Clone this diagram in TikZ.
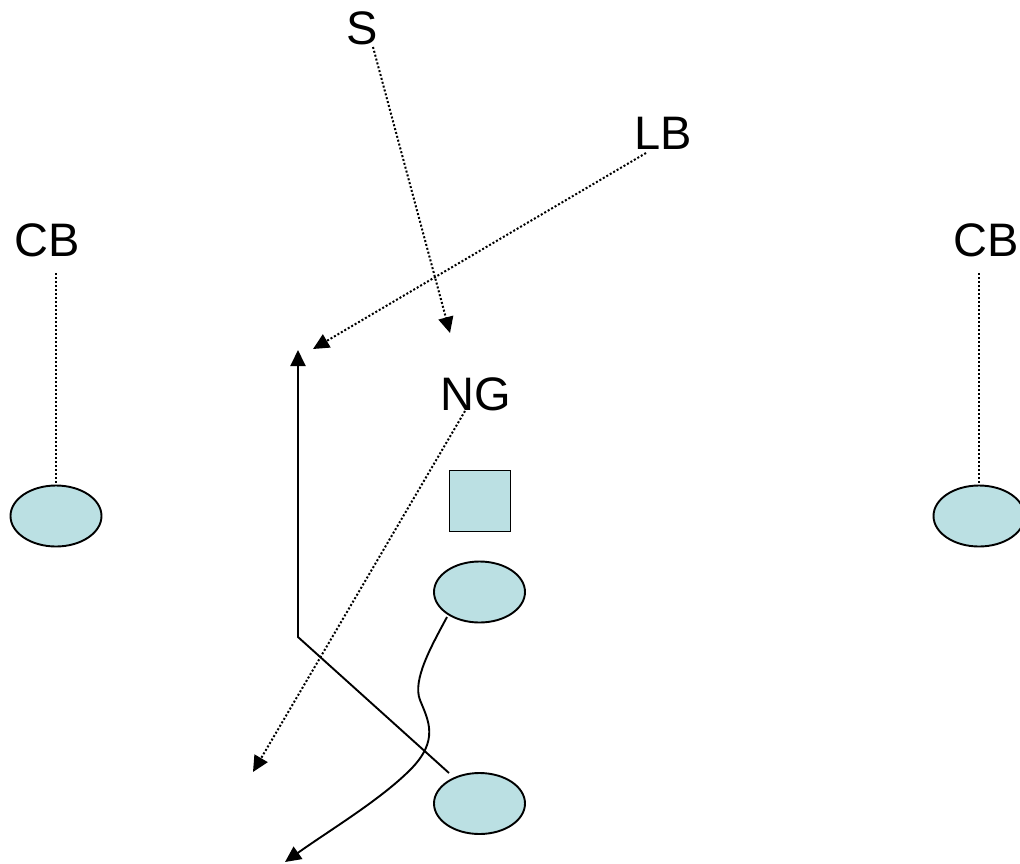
\documentclass[tikz,border=0pt]{standalone}
\usepackage{fontspec}
\setmainfont{Liberation Sans}
\usepackage{xcolor}
\usetikzlibrary{shapes.geometric,arrows.meta}
\definecolor{player}{RGB}{187,224,227}

\begin{document}
\begin{tikzpicture}[x=1pt, y=-1pt,
    lbl/.style={font=\fontsize{47}{56}\selectfont, inner sep=0pt},
    man/.style={ellipse, draw, fill=player, line width=1.9pt, minimum width=91pt, minimum height=61pt, inner sep=0pt},
    ctr/.style={rectangle, draw, fill=player, line width=1.9pt, minimum width=61pt, minimum height=61pt, inner sep=0pt},
    run/.style={line width=1.9pt, -{Triangle[length=16pt,width=15pt]}},
    cover/.style={line width=2pt, dash pattern=on 2pt off 2pt},
    blitz/.style={cover, -{Triangle[length=16pt,width=15pt]}}]

    \useasboundingbox (0,0) rectangle (1020,863);

    \node[lbl] (s) at (362,28) {S};
    \node[lbl] (lb) at (663,133) {LB};
    \node[lbl] (cbl) at (47,240) {CB};
    \node[lbl] (cbr) at (986,240) {CB};
    \node[lbl] (ng) at (476,394) {NG};

    \node[man] (lcb) at (56,516) {};
    \node[man] (rcb) at (979,516) {};
    \node[ctr] (c) at (480,501) {};
    \node[man] (qb) at (479.5,592) {};
    \node[man] (rb) at (479.5,803.5) {};

    % free ends
    \coordinate (sfrom) at (373,47);
    \coordinate (sto) at (450,333);
    \coordinate (lbfrom) at (646,153);
    \coordinate (lbto) at (313,349);
    \coordinate (ngfrom) at (465,411);
    \coordinate (ngto) at (253,772);
    \coordinate (lcbtop) at (56,273);
    \coordinate (rcbtop) at (979,273);
    \coordinate (rbfrom) at (449,773);
    \coordinate (turn) at (298,637);
    \coordinate (rbto) at (298,350);
    \coordinate (qbfrom) at (447,617);
    \coordinate (qbto) at (285,862);

    \draw[cover] (lcbtop) -- (lcb.north);
    \draw[cover] (rcbtop) -- (rcb.north);

    \draw[blitz] (sfrom) -- (sto);
    \draw[blitz] (lbfrom) -- (lbto);
    \draw[blitz] (ngfrom) -- (ngto);

    \draw[run] (rbfrom) -- (turn) -- (rbto);
    \draw[run] (qbfrom) .. controls (432,645) and (412,680) .. (420,700)
        .. controls (428,720) and (440,740) .. (410,770)
        .. controls (380,800) and (330,830) .. (qbto);
\end{tikzpicture}
\end{document}
